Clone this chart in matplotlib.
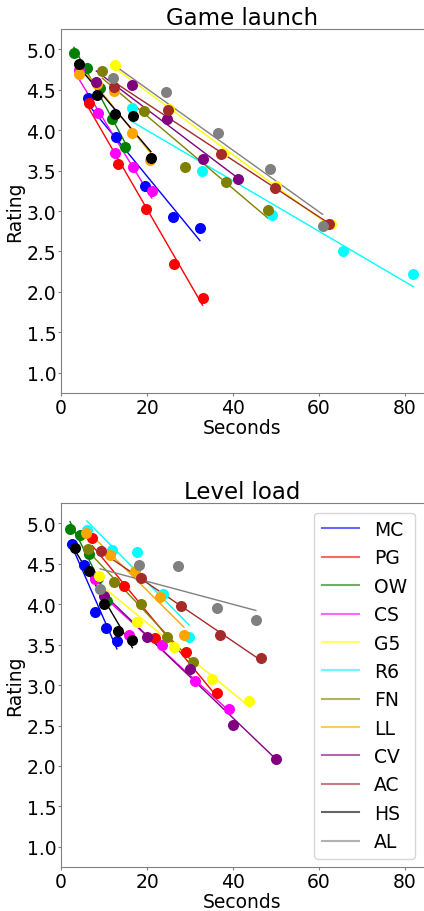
import numpy as np
import matplotlib
matplotlib.use('Agg')
import matplotlib.pyplot as plt
from matplotlib.lines import Line2D

games = ['MC', 'PG', 'OW', 'CS', 'G5', 'R6', 'FN', 'LL', 'CV', 'AC', 'HS', 'AL']
colors = ['blue', 'red', 'green', 'magenta', 'yellow', 'cyan', 'olive',
          'orange', 'purple', 'brown', 'black', 'gray']

# game launch: seconds / rating per game
launch_sec = {
    'MC': [6.3, 12.9, 19.5, 26.0, 32.3],
    'PG': [6.6, 13.2, 19.8, 26.3, 32.9],
    'OW': [3.0, 6.0, 9.0, 11.9, 14.9],
    'CS': [4.2, 8.5, 12.6, 16.8, 21.1],
    'G5': [12.6, 25.1, 37.6, 50.1, 62.7],
    'R6': [16.4, 32.8, 49.1, 65.5, 81.9],
    'FN': [9.6, 19.3, 28.8, 38.4, 48.1],
    'LL': [4.1, 8.3, 12.4, 16.6, 20.8],
    'CV': [8.2, 16.4, 24.7, 33.0, 41.2],
    'AC': [12.4, 24.9, 37.3, 49.7, 62.2],
    'HS': [4.2, 8.3, 12.6, 16.7, 20.9],
    'AL': [12.2, 24.3, 36.6, 48.7, 60.8],
}
launch_rating = {
    'MC': [4.40, 3.92, 3.31, 2.93, 2.79],
    'PG': [4.34, 3.58, 3.03, 2.35, 1.93],
    'OW': [4.95, 4.77, 4.52, 4.14, 3.79],
    'CS': [4.75, 4.21, 3.72, 3.55, 3.25],
    'G5': [4.81, 4.26, 3.72, 3.31, 2.84],
    'R6': [4.28, 3.49, 2.95, 2.50, 2.22],
    'FN': [4.73, 4.24, 3.55, 3.36, 3.01],
    'LL': [4.70, 4.57, 4.49, 3.96, 3.63],
    'CV': [4.60, 4.56, 4.14, 3.64, 3.40],
    'AC': [4.53, 4.25, 3.71, 3.28, 2.84],
    'HS': [4.82, 4.44, 4.20, 4.17, 3.65],
    'AL': [4.65, 4.47, 3.97, 3.52, 2.81],
}

# level load
load_sec = {
    'MC': [2.5, 5.3, 7.8, 10.5, 13.0],
    'PG': [7.3, 14.6, 21.8, 29.1, 36.2],
    'OW': [2.1, 4.3, 6.5, 8.6, 10.7],
    'CS': [8.0, 15.7, 23.5, 31.2, 39.1],
    'G5': [8.8, 17.6, 26.2, 35.0, 43.8],
    'R6': [6.0, 11.9, 17.7, 23.6, 29.8],
    'FN': [6.2, 12.3, 18.5, 24.7, 30.8],
    'LL': [5.7, 11.4, 17.2, 22.9, 28.6],
    'CV': [10.0, 20.0, 30.0, 40.1, 50.1],
    'AC': [9.2, 18.6, 27.8, 37.0, 46.4],
    'HS': [3.3, 6.6, 9.9, 13.2, 16.6],
    'AL': [9.1, 18.2, 27.3, 36.2, 45.3],
}
load_rating = {
    'MC': [4.74, 4.49, 3.90, 3.71, 3.54],
    'PG': [4.82, 4.23, 3.58, 3.41, 2.90],
    'OW': [4.93, 4.86, 4.62, 4.33, 4.04],
    'CS': [4.31, 3.62, 3.49, 3.05, 2.71],
    'G5': [4.35, 3.78, 3.47, 3.08, 2.80],
    'R6': [4.92, 4.67, 4.65, 4.13, 3.59],
    'FN': [4.68, 4.28, 4.00, 3.59, 3.29],
    'LL': [4.88, 4.61, 4.41, 4.09, 3.62],
    'CV': [4.10, 3.60, 3.20, 2.51, 2.09],
    'AC': [4.66, 4.32, 3.98, 3.62, 3.33],
    'HS': [4.69, 4.41, 4.00, 3.67, 3.56],
    'AL': [4.19, 4.48, 4.47, 3.95, 3.81],
}

def draw(ax, secs, ratings, title):
    for g, c in zip(games, colors):
        x = np.array(secs[g])
        y = np.array(ratings[g])
        m, b = np.polyfit(x, y, 1)
        xs = np.array([x.min(), x.max()])
        ax.plot(xs, m * xs + b, color=c, lw=1)
        ax.scatter(x, y, color=c, s=48, zorder=3)
    ax.set_xlim(0, 84.4)
    ax.set_ylim(0.75, 5.25)
    ax.set_xticks([0, 20, 40, 60, 80])
    ax.set_yticks([1.0, 1.5, 2.0, 2.5, 3.0, 3.5, 4.0, 4.5, 5.0])
    ax.set_title(title, fontsize=16.5, pad=2.5)
    ax.set_xlabel('Seconds', fontsize=13.5)
    ax.set_ylabel('Rating', fontsize=13.5)
    ax.xaxis.set_label_coords(0.5, -0.068)
    ax.yaxis.set_label_coords(-0.102, 0.5)
    ax.tick_params(labelsize=13.5, color='gray', length=2, pad=1.5)
    for s in ax.spines.values():
        s.set_color('gray')
    ax.spines['right'].set_visible(False)

fig = plt.figure(figsize=(4.24, 9.12), dpi=100)
ax1 = fig.add_axes([0.1439, 0.568, 0.8561, 0.399])
ax2 = fig.add_axes([0.1439, 0.0482, 0.8561, 0.399])

draw(ax1, launch_sec, launch_rating, 'Game launch')
draw(ax2, load_sec, load_rating, 'Level load')

handles = [Line2D([0], [0], color=c, lw=1.5, alpha=0.6) for c in colors]
ax2.legend(handles, games, loc='upper right', fontsize=13.5, labelspacing=0.5)

fig.savefig('out.png', dpi=100)
